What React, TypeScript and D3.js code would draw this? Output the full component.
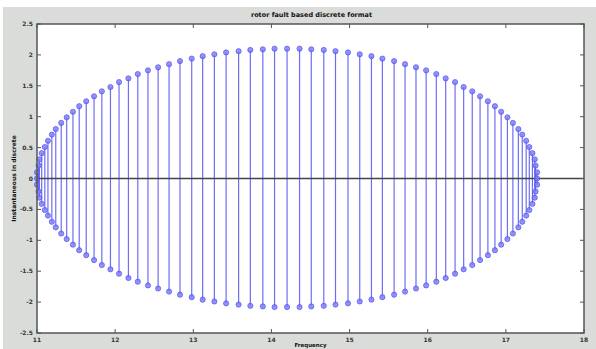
import React from "react";
import * as d3 from "d3";

const title = "rotor fault based discrete format";
const xLabel = "Frequency";
const yLabel = "Instantaneous in discrete";
const xTicks = [11, 12, 13, 14, 15, 16, 17, 18];
const yTicks = [2.5, 2, 1.5, 1, 0.5, 0, -0.5, -1, -1.5, -2, -2.5];

const upperX = [17.40, 17.40, 17.38, 17.37, 17.34, 17.30, 17.26, 17.21, 17.16, 17.09, 17.02, 16.94, 16.86, 16.77, 16.67, 16.57, 16.46, 16.35, 16.23, 16.11, 15.98, 15.85, 15.71, 15.57, 15.42, 15.28, 15.13, 14.98, 14.82, 14.67, 14.51, 14.36, 14.20, 14.04, 13.89, 13.73, 13.58, 13.42, 13.27, 13.12, 12.98, 12.83, 12.69, 12.55, 12.42, 12.29, 12.17, 12.05, 11.94, 11.83, 11.73, 11.63, 11.54, 11.46, 11.38, 11.31, 11.24, 11.19, 11.14, 11.10, 11.06, 11.03, 11.02, 11.00, 11.00];
const upperY = [0.00, 0.10, 0.21, 0.31, 0.41, 0.51, 0.61, 0.71, 0.80, 0.90, 0.99, 1.08, 1.17, 1.25, 1.33, 1.41, 1.48, 1.56, 1.62, 1.69, 1.75, 1.80, 1.85, 1.90, 1.94, 1.98, 2.01, 2.04, 2.06, 2.08, 2.09, 2.10, 2.10, 2.10, 2.09, 2.08, 2.06, 2.04, 2.01, 1.98, 1.94, 1.90, 1.85, 1.80, 1.75, 1.69, 1.62, 1.56, 1.48, 1.41, 1.33, 1.25, 1.17, 1.08, 0.99, 0.90, 0.80, 0.71, 0.61, 0.51, 0.41, 0.31, 0.21, 0.10, 0.00];
const lowerX = [11.00, 11.02, 11.03, 11.06, 11.10, 11.14, 11.19, 11.24, 11.31, 11.38, 11.46, 11.54, 11.63, 11.73, 11.83, 11.94, 12.05, 12.17, 12.29, 12.42, 12.55, 12.69, 12.83, 12.98, 13.12, 13.27, 13.42, 13.58, 13.73, 13.89, 14.04, 14.20, 14.36, 14.51, 14.67, 14.82, 14.98, 15.13, 15.28, 15.42, 15.57, 15.71, 15.85, 15.98, 16.11, 16.23, 16.35, 16.46, 16.57, 16.67, 16.77, 16.86, 16.94, 17.02, 17.09, 17.16, 17.21, 17.26, 17.30, 17.34, 17.37, 17.38, 17.40];
const lowerY = [-0.10, -0.21, -0.31, -0.41, -0.51, -0.60, -0.70, -0.79, -0.89, -0.98, -1.07, -1.16, -1.24, -1.32, -1.40, -1.47, -1.54, -1.61, -1.67, -1.73, -1.78, -1.83, -1.88, -1.92, -1.96, -1.99, -2.02, -2.04, -2.06, -2.07, -2.08, -2.08, -2.08, -2.07, -2.06, -2.04, -2.02, -1.99, -1.96, -1.92, -1.88, -1.83, -1.78, -1.73, -1.67, -1.61, -1.54, -1.47, -1.40, -1.32, -1.24, -1.16, -1.07, -0.98, -0.89, -0.79, -0.70, -0.60, -0.51, -0.41, -0.31, -0.21, -0.10];

const W = 596;
const H = 349;
const L = 37, R = 584, T = 24, B = 333;

export default function App() {
  const x = d3.scaleLinear().domain([11, 18]).range([L, R]);
  const y = d3.scaleLinear().domain([-2.5, 2.5]).range([B, T]);
  const pts: { x: number; y: number }[] = [];
  upperX.forEach((v, i) => { if (i < upperY.length) pts.push({ x: v, y: upperY[i] }); });
  lowerX.forEach((v, i) => { if (i < lowerY.length) pts.push({ x: v, y: lowerY[i] }); });
  const axisColor = "#555";
  const font = "DejaVu Sans, sans-serif";
  return (
    <svg width={W} height={H} style={{ position: "absolute", left: 0, top: 0, display: "block" }}>
      <rect x={0} y={0} width={W} height={H} fill="#ffffff" />
      <rect x={3} y={7} width={W - 3} height={H - 7} fill="#d9dcd8" />
      <rect x={L} y={T} width={R - L} height={B - T} fill="#ffffff" />
      {/* stems */}
      {pts.map((p, i) => (
        <line key={"s" + i} x1={x(p.x)} x2={x(p.x)} y1={y(0)} y2={y(p.y)} stroke="#3c3cf0" strokeOpacity={0.75} strokeWidth={1.2} />
      ))}
      {/* baseline */}
      <line x1={L} x2={R} y1={y(0)} y2={y(0)} stroke="#444" strokeWidth={1.3} />
      {/* markers */}
      {pts.map((p, i) => (
        <circle key={"m" + i} cx={x(p.x)} cy={y(p.y)} r={2.6} fill="#7a7af5" fillOpacity={0.8} stroke="#4a4af0" strokeOpacity={0.8} strokeWidth={0.8} />
      ))}
      {/* box */}
      <rect x={L} y={T} width={R - L} height={B - T} fill="none" stroke={axisColor} strokeWidth={1.5} />
      {/* ticks */}
      {xTicks.map((t) => (
        <g key={"xt" + t}>
          <line x1={x(t)} x2={x(t)} y1={B} y2={B - 4} stroke={axisColor} />
          <line x1={x(t)} x2={x(t)} y1={T} y2={T + 4} stroke={axisColor} />
          <text x={x(t)} y={B + 9} fontSize={6} fontFamily={font} fontWeight="bold" fill="#333" textAnchor="middle">{t}</text>
        </g>
      ))}
      {yTicks.map((t) => (
        <g key={"yt" + t}>
          <line x1={L} x2={L + 4} y1={y(t)} y2={y(t)} stroke={axisColor} />
          <line x1={R} x2={R - 4} y1={y(t)} y2={y(t)} stroke={axisColor} />
          <text x={L - 4} y={y(t) + 2} fontSize={6} fontFamily={font} fontWeight="bold" fill="#333" textAnchor="end">{t}</text>
        </g>
      ))}
      <text x={(L + R) / 2 + 1} y={17} fontSize={6.5} fontFamily={font} fontWeight="bold" fill="#111" textAnchor="middle">{title}</text>
      <text x={(L + R) / 2} y={347} fontSize={5.5} fontFamily={font} fontWeight="bold" fill="#111" textAnchor="middle">{xLabel}</text>
      <text transform={`translate(16,${y(0)}) rotate(-90)`} fontSize={6} fontFamily={font} fontWeight="bold" fill="#111" textAnchor="middle">{yLabel}</text>
    </svg>
  );
}
